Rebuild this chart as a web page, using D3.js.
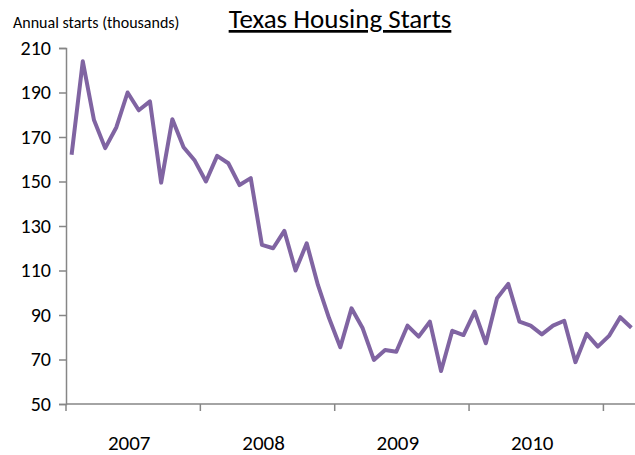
<!DOCTYPE html>
<html>
<head>
<meta charset="utf-8">
<script src="https://cdn.jsdelivr.net/npm/d3@7"></script>
<style>
  body { margin: 0; background: #fff; }
  svg text { font-family: Carlito, "Liberation Sans Narrow", "Open Sans", sans-serif; fill: #000; }
</style>
</head>
<body>
<div id="chart"></div>
<script>
// monthly values, Jan 2007 - Mar 2011
const years = ['2007', '2008', '2009', '2010']
const yTicks = [50, 70, 90, 110, 130, 150, 170, 190, 210]
const starts = [
    162, 204, 177.6, 165, 174.4, 190, 182, 186, 149.5, 178, 165.4, 159.4,
    150, 161.5, 158.2, 148.4, 151.5, 121.5, 120, 127.8, 110, 122.2, 103.5, 88.5,
    75.5, 93, 84, 69.8, 74.3, 73.5, 85.2, 80.3, 87, 64.8, 82.9, 81,
    91.5, 77.3, 97.5, 104, 87, 85.2, 81.3, 85.2, 87.4, 68.8, 81.5, 75.8,
    80.6, 89, 84.3
]

const width = 635, height = 455
const margin = { top: 48, right: 0, bottom: 51, left: 66 }
const innerW = width - margin.left - margin.right
const innerH = height - margin.top - margin.bottom

const svg = d3.select('#chart')
    .append('svg')
    .attr('width', width)
    .attr('height', height)

const g = svg.append('g')
    .attr('transform', `translate(${margin.left},${margin.top})`)

/* band per month so points sit in the middle of each slot */
const xScale = d3.scaleBand()
    .domain(d3.range(starts.length))
    .range([0, 571])

const yScale = d3.scaleLinear()
    .domain([50, 210])
    .range([innerH, 0])

/* y axis */
const yAxis = g.append('g')
    .call(d3.axisLeft(yScale).tickValues(yTicks).tickSize(7).tickPadding(8))
yAxis.select('.domain').attr('stroke', '#868686').attr('stroke-width', 1.5)
yAxis.selectAll('.tick line').attr('stroke', '#868686').attr('stroke-width', 1.5)
yAxis.selectAll('text').style('font-size', '20px').attr('fill', '#000')

/* x axis with a tick every 12 months */
const step = xScale.step()
const yearEdges = d3.range(0, starts.length, 12).map(i => i * step)
const xAxis = g.append('g').attr('transform', `translate(0,${innerH})`)
xAxis.append('line')
    .attr('x1', 0).attr('x2', innerW)
    .attr('stroke', '#868686').attr('stroke-width', 1.5)
xAxis.selectAll('.xt')
    .data(yearEdges)
    .join('line')
    .attr('class', 'xt')
    .attr('x1', d => d).attr('x2', d => d)
    .attr('y1', 0).attr('y2', 7)
    .attr('stroke', '#868686').attr('stroke-width', 1.5)
xAxis.selectAll('.yl')
    .data(years)
    .join('text')
    .attr('class', 'yl')
    .attr('x', (d, i) => (i * 12 + 6) * step - 4)
    .attr('y', 46)
    .attr('text-anchor', 'middle')
    .style('font-size', '21px')
    .text(d => d)

/* the line */
const line = d3.line()
    .x((d, i) => xScale(i) + xScale.bandwidth() / 2)
    .y(d => yScale(d))

g.append('path')
    .datum(starts)
    .attr('fill', 'none')
    .attr('stroke', '#8064A2')
    .attr('stroke-width', 4)
    .attr('stroke-linejoin', 'round')
    .attr('d', line)

/* title */
svg.append('text')
    .attr('x', 340)
    .attr('y', 28)
    .attr('text-anchor', 'middle')
    .style('font-size', '27px')
    .style('text-decoration', 'underline')
    .text('Texas Housing Starts')

/* y label */
svg.append('text')
    .attr('x', 13)
    .attr('y', 28)
    .style('font-size', '16px')
    .text('Annual starts (thousands)')
</script>
</body>
</html>
